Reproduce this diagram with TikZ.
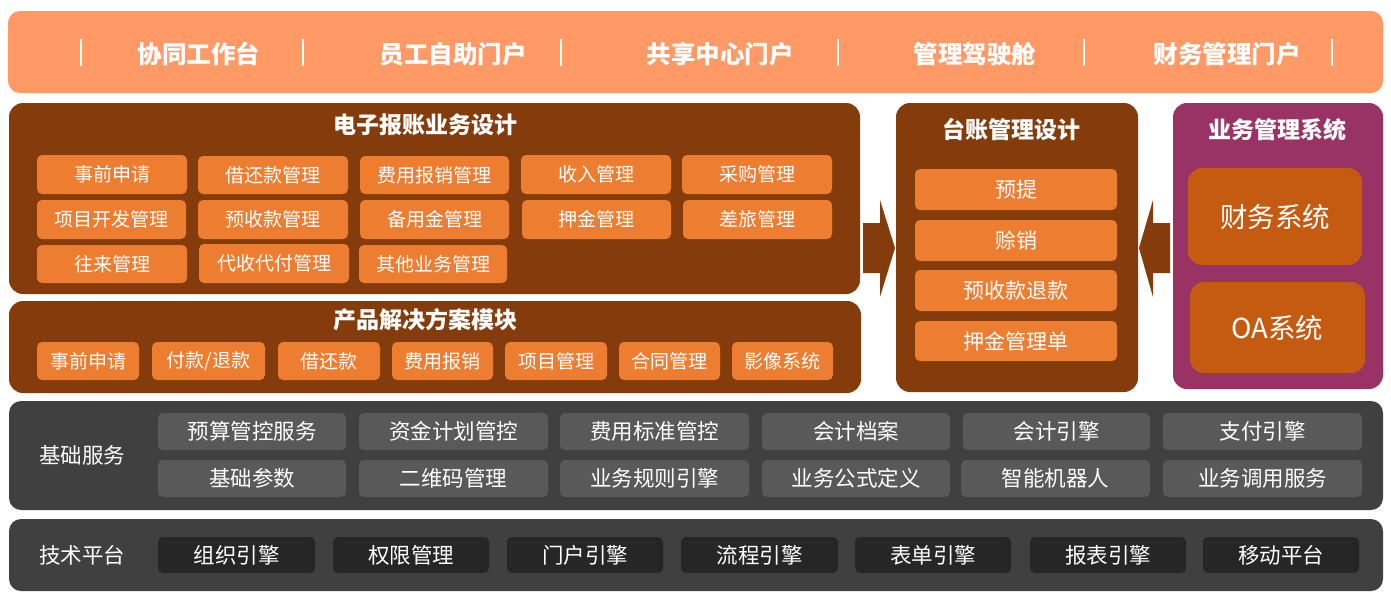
\documentclass[tikz,border=0pt]{standalone}
\usepackage{fontspec}
\setmainfont{Noto Sans CJK SC}
\definecolor{topbar}{HTML}{FF9966}
\definecolor{brown}{HTML}{843C0C}
\definecolor{orangebox}{HTML}{ED7D31}
\definecolor{purplep}{HTML}{993366}
\definecolor{darkor}{HTML}{C55A11}
\definecolor{graypanel}{HTML}{404040}
\definecolor{graybox}{HTML}{595959}
\definecolor{darkbox}{HTML}{262626}
\newcommand\bx[7]{\node[#1, minimum width={(#4-#2)*1pt}, minimum height={(#5-#3)*1pt}] (#6) at ({(#2+#4)/2},{(#3+#5)/2}) {#7};}
\tikzset{
  base/.style={inner sep=0pt, outer sep=0pt, text=white, align=center},
  topbg/.style={base, fill=topbar, rounded corners=12pt},
  panel/.style={base, fill=brown, rounded corners=14pt},
  ppanel/.style={base, fill=purplep, rounded corners=14pt},
  gpanel/.style={base, fill=graypanel, rounded corners=12pt},
  obox/.style={base, fill=orangebox, rounded corners=5pt, font=\fontsize{19}{20}\selectfont},
  tbox/.style={base, fill=orangebox, rounded corners=5pt, font=\fontsize{21}{22}\selectfont},
  rbox/.style={base, fill=darkor, rounded corners=14pt, font=\fontsize{27.5}{28}\selectfont},
  gbox/.style={base, fill=graybox, rounded corners=5pt, font=\fontsize{21.5}{22}\selectfont},
  dbox/.style={base, fill=darkbox, rounded corners=5pt, font=\fontsize{21.5}{22}\selectfont},
  toptext/.style={base, font=\fontsize{24.5}{25}\selectfont\bfseries},
  title/.style={base, font=\fontsize{23}{24}\selectfont\bfseries},
  side/.style={base, font=\fontsize{21.5}{22}\selectfont},
  sep/.style={draw=white, line width=1.6pt},
  bigarrow/.style={fill=brown},
}
\begin{document}
\begin{tikzpicture}[x=1pt,y=-1pt]
\useasboundingbox (0,0) rectangle (1391,598);
% top bar
\bx{topbg}{8}{11}{1383}{93}{top}{}
\foreach \i/\x in {1/81,2/303,3/561,4/838,5/1084,6/1332}{
  \coordinate (sa\i) at (\x,39); \coordinate (sb\i) at (\x,66);
  \draw[sep] (sa\i) -- (sb\i);
}
\node[toptext] (t1) at (199,54) {协同工作台};
\node[toptext] (t2) at (453,54) {员工自助门户};
\node[toptext] (t3) at (720,54) {共享中心门户};
\node[toptext] (t4) at (975,54) {管理驾驶舱};
\node[toptext] (t5) at (1227,54) {财务管理门户};

% left upper panel
\bx{panel}{9}{103}{860}{294}{p1}{}
\node[title] (p1t) at (425,125) {电子报账业务设计};
\bx{obox}{37}{155}{187}{194}{a1}{事前申请}
\bx{obox}{198}{156}{348}{194}{a2}{借还款管理}
\bx{obox}{360}{156}{509}{194}{a3}{费用报销管理}
\bx{obox}{521}{155}{671}{194}{a4}{收入管理}
\bx{obox}{682}{155}{832}{194}{a5}{采购管理}
\bx{obox}{37}{200}{186}{239}{b1}{项目开发管理}
\bx{obox}{198}{200}{348}{239}{b2}{预收款管理}
\bx{obox}{360}{200}{509}{239}{b3}{备用金管理}
\bx{obox}{522}{200}{671}{239}{b4}{押金管理}
\bx{obox}{683}{200}{832}{239}{b5}{差旅管理}
\bx{obox}{37}{245}{187}{283}{c1}{往来管理}
\bx{obox}{199}{244}{349}{283}{c2}{代收代付管理}
\bx{obox}{359}{245}{507}{283}{c3}{其他业务管理}

% left lower panel
\bx{panel}{9}{301}{861}{393}{p2}{}
\node[title] (p2t) at (425,320) {产品解决方案模块};
\bx{obox}{37}{342}{139}{380}{d1}{事前申请}
\bx{obox}{152}{342}{265}{380}{d2}{付款/退款}
\bx{obox}{278}{342}{380}{380}{d3}{借还款}
\bx{obox}{392}{342}{493}{380}{d4}{费用报销}
\bx{obox}{505}{342}{607}{380}{d5}{项目管理}
\bx{obox}{619}{342}{720}{380}{d6}{合同管理}
\bx{obox}{732}{342}{833}{380}{d7}{影像系统}

% middle panel
\bx{panel}{896}{103}{1138}{392}{m}{}
\node[title] (mt) at (1011,130) {台账管理设计};
\bx{tbox}{915}{169}{1117}{210}{m1}{预提}
\bx{tbox}{915}{220}{1117}{261}{m2}{赊销}
\bx{tbox}{915}{270}{1117}{311}{m3}{预收款退款}
\bx{tbox}{915}{321}{1117}{361}{m4}{押金管理单}

% right panel
\bx{ppanel}{1173}{103}{1383}{389}{r}{}
\node[title] (rt) at (1277,130) {业务管理系统};
\bx{rbox}{1188}{168}{1362}{265}{r1}{财务系统}
\bx{rbox}{1190}{282}{1365}{373}{r2}{OA系统}

% arrows
\fill[bigarrow] (863,223) -- (880,223) -- (880,200) -- (895,248) -- (880,297) -- (880,273) -- (863,273) -- cycle;
\fill[bigarrow] (1170,223) -- (1153,223) -- (1153,200) -- (1139,248) -- (1153,297) -- (1153,273) -- (1170,273) -- cycle;

% base services
\bx{gpanel}{9}{401}{1383}{510}{g}{}
\node[side] (gl) at (82,455) {基础服务};
\bx{gbox}{158}{413}{346}{450}{g1}{预算管控服务}
\bx{gbox}{359}{413}{548}{450}{g2}{资金计划管控}
\bx{gbox}{560}{413}{749}{450}{g3}{费用标准管控}
\bx{gbox}{762}{413}{950}{450}{g4}{会计档案}
\bx{gbox}{963}{413}{1150}{450}{g5}{会计引擎}
\bx{gbox}{1163}{413}{1362}{450}{g6}{支付引擎}
\bx{gbox}{158}{460}{346}{497}{h1}{基础参数}
\bx{gbox}{359}{460}{548}{497}{h2}{二维码管理}
\bx{gbox}{560}{460}{749}{497}{h3}{业务规则引擎}
\bx{gbox}{762}{460}{950}{497}{h4}{业务公式定义}
\bx{gbox}{961}{460}{1150}{497}{h5}{智能机器人}
\bx{gbox}{1163}{460}{1362}{497}{h6}{业务调用服务}

% tech platform
\bx{gpanel}{9}{519}{1383}{591}{k}{}
\node[side] (kl) at (82,555) {技术平台};
\bx{dbox}{158}{537}{315}{573}{k1}{组织引擎}
\bx{dbox}{333}{537}{489}{573}{k2}{权限管理}
\bx{dbox}{507}{537}{663}{573}{k3}{门户引擎}
\bx{dbox}{681}{537}{838}{573}{k4}{流程引擎}
\bx{dbox}{855}{537}{1011}{573}{k5}{表单引擎}
\bx{dbox}{1030}{537}{1186}{573}{k6}{报表引擎}
\bx{dbox}{1203}{537}{1359}{573}{k7}{移动平台}
\end{tikzpicture}
\end{document}
